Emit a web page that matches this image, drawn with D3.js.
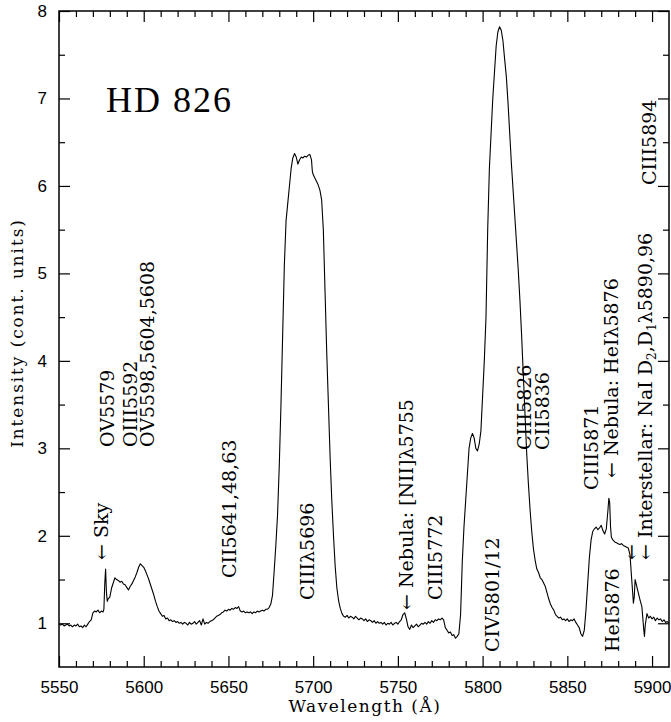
<!DOCTYPE html>
<html>
<head>
<meta charset="utf-8">
<script src="https://cdn.jsdelivr.net/npm/d3@7"></script>
<style>
  body { margin: 0; background: #fff; }
  svg { display: block; }
  .tick text { font-family: "Liberation Sans", sans-serif; font-size: 17px; fill: #000; }
  .tick line { stroke: #000; }
  .domain { display: none; }
  .ann { font-family: "DejaVu Serif", serif; font-size: 17px; fill: #000; }
  .lab { font-family: "DejaVu Serif", serif; font-size: 19px; fill: #000; }
</style>
</head>
<body>
<div id="chart"></div>
<script>
// tick values
var xMajor = [5550, 5600, 5650, 5700, 5750, 5800, 5850, 5900];
var yMajor = [1, 2, 3, 4, 5, 6, 7, 8];

// spectrum: [wavelength (A), intensity (cont. units)]
var spectrum = [
  [5550, 0.99], [5551, 0.98], [5552, 0.99], [5553, 0.97], [5554, 0.98], [5555, 0.99],
  [5556, 0.97], [5557, 0.98], [5558, 0.96], [5559, 0.98], [5560, 0.97], [5561, 0.99],
  [5562, 0.96], [5563, 0.97], [5564, 0.95], [5565, 0.98], [5566, 0.96], [5567, 0.99],
  [5568, 1.02], [5569, 1.04], [5570, 1.12], [5571, 1.14], [5572, 1.13], [5573, 1.15],
  [5574, 1.12], [5575, 1.14], [5576, 1.13], [5576.5, 1.16], [5577, 1.45], [5577.5, 1.62],
  [5578, 1.35], [5578.5, 1.25], [5579, 1.28], [5580, 1.30], [5581, 1.40], [5582, 1.46],
  [5583, 1.52], [5584, 1.50], [5585, 1.49], [5586, 1.47], [5587, 1.48], [5588, 1.45],
  [5589, 1.44], [5590, 1.41], [5591, 1.38], [5592, 1.42], [5593, 1.45], [5594, 1.49],
  [5595, 1.53], [5596, 1.58], [5597, 1.64], [5598, 1.68], [5599, 1.66], [5600, 1.64],
  [5601, 1.60], [5602, 1.55], [5603, 1.50], [5604, 1.44], [5605, 1.38], [5606, 1.32],
  [5607, 1.25], [5608, 1.19], [5609, 1.14], [5610, 1.11], [5611, 1.08], [5612, 1.09],
  [5613, 1.05], [5614, 1.06], [5615, 1.03], [5616, 1.04], [5617, 1.02], [5618, 1.03],
  [5619, 1.01], [5620, 1.02], [5621, 1.00], [5622, 1.01], [5623, 0.99], [5624, 1.01],
  [5625, 1.00], [5626, 0.98], [5627, 1.01], [5628, 0.99], [5629, 1.00], [5630, 1.02],
  [5631, 0.99], [5632, 1.01], [5633, 1.03], [5634, 0.98], [5635, 1.05], [5636, 0.99],
  [5637, 1.01], [5638, 1.00], [5639, 1.02], [5640, 1.03], [5641, 1.04], [5642, 1.06],
  [5643, 1.08], [5644, 1.09], [5645, 1.10], [5646, 1.12], [5647, 1.13], [5648, 1.15],
  [5649, 1.14], [5650, 1.16], [5651, 1.15], [5652, 1.17], [5653, 1.16], [5654, 1.18],
  [5655, 1.17], [5656, 1.19], [5657, 1.14], [5658, 1.13], [5659, 1.14], [5660, 1.12],
  [5661, 1.13], [5662, 1.12], [5663, 1.13], [5664, 1.11], [5665, 1.13], [5666, 1.12],
  [5667, 1.14], [5668, 1.13], [5669, 1.14], [5670, 1.15], [5671, 1.14], [5672, 1.16],
  [5673, 1.16], [5674, 1.18], [5675, 1.22], [5676, 1.32], [5677, 1.60], [5678, 1.90],
  [5679, 2.25], [5680, 2.80], [5681, 3.50], [5682, 4.30], [5683, 5.10], [5684, 5.60],
  [5685, 5.80], [5686, 6.00], [5687, 6.20], [5688, 6.32], [5689, 6.37], [5690, 6.33],
  [5691, 6.25], [5692, 6.30], [5693, 6.33], [5694, 6.32], [5695, 6.34], [5696, 6.33],
  [5697, 6.35], [5698, 6.36], [5699, 6.30], [5699.5, 6.17], [5700, 6.13], [5701, 6.09],
  [5702, 6.05], [5703, 6.01], [5704, 5.95], [5705, 5.84], [5706, 5.50], [5707, 4.80],
  [5708, 4.10], [5709, 3.50], [5710, 2.90], [5711, 2.40], [5712, 2.00], [5713, 1.65],
  [5714, 1.40], [5715, 1.26], [5716, 1.17], [5717, 1.11], [5718, 1.08], [5719, 1.07],
  [5720, 1.09], [5721, 1.06], [5722, 1.08], [5723, 1.07], [5724, 1.05], [5725, 1.08],
  [5726, 1.06], [5727, 1.04], [5728, 1.06], [5729, 1.05], [5730, 1.03], [5731, 1.05],
  [5732, 1.02], [5733, 1.04], [5734, 1.03], [5735, 1.01], [5736, 1.03], [5737, 1.00],
  [5738, 1.02], [5739, 1.00], [5740, 1.01], [5741, 0.99], [5742, 1.01], [5743, 0.98],
  [5744, 1.00], [5745, 0.99], [5746, 1.01], [5747, 0.98], [5748, 1.00], [5749, 1.01],
  [5750, 0.99], [5751, 1.02], [5752, 1.04], [5753, 1.10], [5754, 1.12], [5755, 1.05],
  [5756, 0.96], [5757, 0.93], [5758, 0.98], [5759, 0.95], [5760, 0.97], [5761, 0.99],
  [5762, 0.96], [5763, 0.98], [5764, 1.00], [5765, 0.99], [5766, 1.01], [5767, 0.99],
  [5768, 1.02], [5769, 1.00], [5770, 1.03], [5771, 1.01], [5772, 1.04], [5773, 1.03],
  [5774, 1.05], [5775, 1.04], [5776, 1.06], [5777, 1.04], [5778, 0.95], [5779, 0.92],
  [5780, 0.89], [5781, 0.90], [5782, 0.86], [5783, 0.87], [5784, 0.83], [5785, 0.85],
  [5786, 0.88], [5787, 1.10], [5787.5, 1.40], [5788, 1.70], [5789, 2.10], [5790, 2.40],
  [5791, 2.70], [5792, 3.00], [5793, 3.12], [5794, 3.17], [5795, 3.12], [5796, 3.00],
  [5797, 2.97], [5798, 3.05], [5799, 3.20], [5800, 3.60], [5801, 4.00], [5802, 4.50],
  [5803, 5.50], [5804, 6.20], [5805, 6.60], [5806, 7.00], [5807, 7.30], [5808, 7.60],
  [5809, 7.76], [5810, 7.82], [5811, 7.78], [5812, 7.66], [5813, 7.45], [5814, 7.25],
  [5815, 6.95], [5816, 6.60], [5817, 6.25], [5818, 5.95], [5819, 5.65], [5820, 5.35],
  [5821, 5.05], [5822, 4.70], [5823, 4.30], [5824, 3.85], [5825, 3.40], [5826, 2.95],
  [5827, 2.60], [5828, 2.30], [5829, 2.05], [5830, 1.85], [5831, 1.72], [5832, 1.62],
  [5833, 1.58], [5834, 1.52], [5835, 1.50], [5836, 1.46], [5837, 1.42], [5838, 1.35],
  [5839, 1.28], [5840, 1.22], [5841, 1.18], [5842, 1.15], [5843, 1.10], [5844, 1.08],
  [5845, 1.06], [5846, 1.07], [5847, 1.04], [5848, 1.05], [5849, 1.03], [5850, 1.05],
  [5851, 1.02], [5852, 1.04], [5853, 1.03], [5854, 1.05], [5855, 1.01], [5856, 0.98],
  [5857, 0.95], [5858, 0.88], [5859, 0.85], [5860, 0.92], [5861, 1.15], [5862, 1.45],
  [5863, 1.75], [5864, 1.95], [5865, 2.05], [5866, 2.08], [5867, 2.10], [5868, 2.07],
  [5869, 2.09], [5870, 2.12], [5871, 2.06], [5872, 2.02], [5873, 2.08], [5874, 2.30],
  [5874.5, 2.43], [5875, 2.38], [5875.5, 2.10], [5876, 1.98], [5877, 1.95], [5878, 1.93],
  [5879, 1.92], [5880, 1.91], [5881, 1.90], [5882, 1.91], [5883, 1.89], [5884, 1.88],
  [5885, 1.87], [5886, 1.86], [5887, 1.78], [5888, 1.50], [5889, 1.23], [5889.5, 1.30],
  [5890, 1.50], [5891, 1.42], [5892, 1.34], [5893, 1.26], [5894, 1.19], [5895, 0.95],
  [5895.5, 0.85], [5896, 0.98], [5897, 1.11], [5898, 1.06], [5899, 1.08], [5900, 1.05],
  [5901, 1.07], [5902, 1.03], [5903, 1.06], [5904, 1.04], [5905, 1.05], [5906, 1.02],
  [5907, 1.04], [5908, 1.01], [5909, 1.02], [5910, 1.00]
];

// line identifications, rotated text (x = baseline, y = start)
var labels = [
  { text: "\u2190 Sky", x: 108, y: 560 },
  { text: "OV5579", x: 114, y: 447 },
  { text: "OIII5592", x: 137, y: 447 },
  { text: "OV5598,5604,5608", x: 154, y: 447 },
  { text: "CII5641,48,63", x: 236, y: 578 },
  { text: "CIII\u03bb5696", x: 314, y: 600 },
  { text: "\u2190 Nebula: [NII]\u03bb5755", x: 413, y: 610 },
  { text: "CIII5772", x: 442, y: 600 },
  { text: "CIV5801/12", x: 499, y: 652 },
  { text: "CIII5826", x: 531, y: 450 },
  { text: "CII5836", x: 549, y: 450 },
  { text: "CIII5871", x: 598, y: 490 },
  { text: "\u2190 Nebula: HeI\u03bb5876", x: 618, y: 478 },
  { text: "HeI5876", x: 619, y: 652 },
  { text: "\u2190", x: 638, y: 560 },
  { text: "CIII5894", x: 656, y: 185 }
];

var margin = { top: 11, right: 2, bottom: 55, left: 59 },
    width = 671 - margin.left - margin.right,
    height = 722 - margin.top - margin.bottom;

var svg = d3.select("#chart")
    .append("svg")
    .attr("width", 671)
    .attr("height", 722)
    .append("g")
    .attr("transform", "translate(" + margin.left + "," + margin.top + ")");

var x = d3.scaleLinear().domain([5550, 5910]).range([0, width]);
var y = d3.scaleLinear().domain([0.5, 8]).range([height, 0]);

var xMinor = d3.range(5560, 5910, 10).filter(function (d) { return d % 50 != 0; });
var yMinor = d3.range(1.5, 8, 1);

// bottom axis with labels
svg.append("g")
    .attr("transform", "translate(0," + height + ")")
    .call(d3.axisBottom(x).tickValues(xMajor).tickSize(-11).tickPadding(14).tickFormat(d3.format("d")));
svg.append("g")
    .attr("transform", "translate(0," + height + ")")
    .call(d3.axisBottom(x).tickValues(xMinor).tickSize(-6).tickFormat(""));
// top axis
svg.append("g")
    .call(d3.axisTop(x).tickValues(xMajor).tickSize(-11).tickFormat(""));
svg.append("g")
    .call(d3.axisTop(x).tickValues(xMinor).tickSize(-6).tickFormat(""));
// left axis
svg.append("g")
    .call(d3.axisLeft(y).tickValues(yMajor).tickSize(-11).tickPadding(12));
svg.append("g")
    .call(d3.axisLeft(y).tickValues(yMinor).tickSize(-6).tickFormat(""));
// right axis
svg.append("g")
    .attr("transform", "translate(" + width + ",0)")
    .call(d3.axisRight(y).tickValues(yMajor).tickSize(-11).tickFormat(""));
svg.append("g")
    .attr("transform", "translate(" + width + ",0)")
    .call(d3.axisRight(y).tickValues(yMinor).tickSize(-6).tickFormat(""));

svg.selectAll(".tick line").attr("stroke-width", 1.2);

// frame
svg.append("rect")
    .attr("width", width)
    .attr("height", height)
    .attr("fill", "none")
    .attr("stroke", "#000")
    .attr("stroke-width", 1.5);

// the spectrum
svg.append("path")
    .datum(spectrum)
    .attr("fill", "none")
    .attr("stroke", "#000")
    .attr("stroke-width", 1.1)
    .attr("stroke-linejoin", "round")
    .attr("d", d3.line()
        .x(function (d) { return x(d[0]); })
        .y(function (d) { return y(d[1]); })
    );

var root = d3.select("svg");

// axis titles
root.append("text")
    .attr("class", "ann")
    .attr("x", 365)
    .attr("y", 712)
    .attr("text-anchor", "middle")
    .style("letter-spacing", "1.5px")
    .text("Wavelength (\u00c5)");

root.append("text")
    .attr("class", "ann")
    .attr("transform", "translate(23,333)rotate(-90)")
    .attr("text-anchor", "middle")
    .style("letter-spacing", "1.9px")
    .text("Intensity (cont. units)");

// star name
root.append("text")
    .attr("x", 106)
    .attr("y", 112)
    .style("font-family", "Liberation Serif, serif")
    .style("font-size", "36px")
    .style("letter-spacing", "2px")
    .text("HD 826");

// line labels, rotated
root.selectAll(".lab")
    .data(labels)
    .enter()
    .append("text")
    .attr("class", "lab")
    .attr("transform", function (d) { return "translate(" + d.x + "," + d.y + ")rotate(-90)"; })
    .text(function (d) { return d.text; });

// NaI label with subscripts
var nai = root.append("text")
    .attr("class", "lab")
    .attr("transform", "translate(652,560)rotate(-90)");
nai.append("tspan").text("\u2190 Interstellar: NaI D");
nai.append("tspan").attr("font-size", "12px").attr("dy", 4).text("2");
nai.append("tspan").attr("dy", -4).text(",D");
nai.append("tspan").attr("font-size", "12px").attr("dy", 4).text("1");
nai.append("tspan").attr("dy", -4).text("\u03bb5890,96");
</script>
</body>
</html>
